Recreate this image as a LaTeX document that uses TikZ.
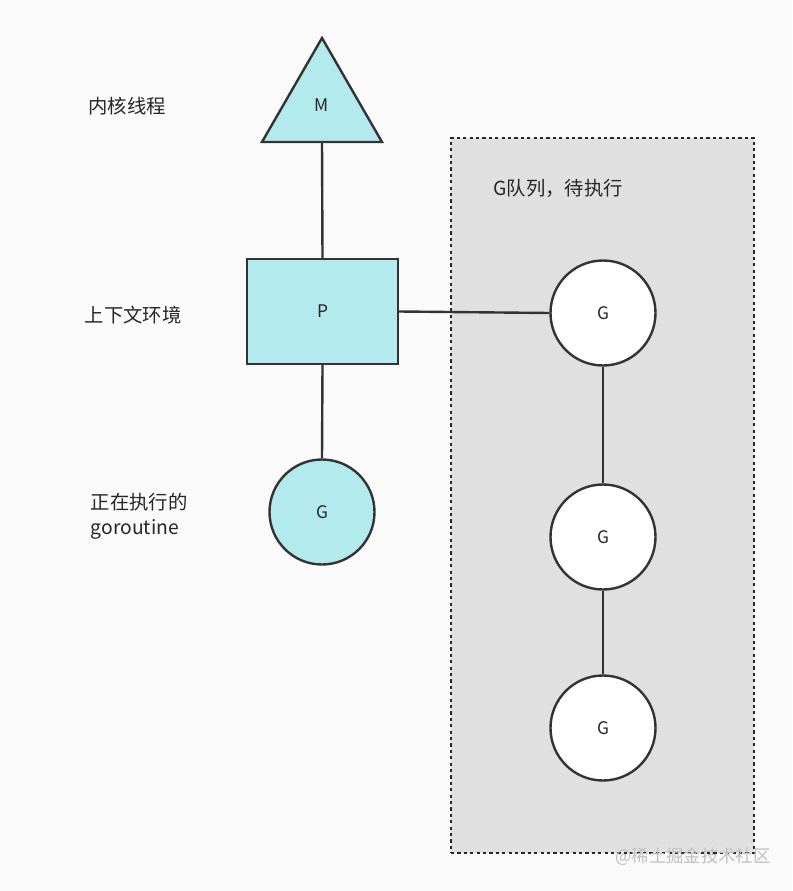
\documentclass[tikz,border=0pt]{standalone}
\usepackage{fontspec}
\setmainfont{Noto Sans CJK SC}
\begin{document}
\begin{tikzpicture}[x=0.75pt,y=-0.75pt,
  teal/.style={fill=tealc,draw=black!80,line width=1.8pt},
  wg/.style={circle,fill=white,draw=black!80,line width=1.8pt,minimum size=105*0.75pt,inner sep=0pt},
  conn/.style={draw=black!80,line width=1.8pt},
  lbl/.style={font=\fontsize{14.5}{18}\selectfont,text=black!85},
  let/.style={font=\fontsize{13}{15}\selectfont,text=black!85}]
\definecolor{tealc}{HTML}{B3EAEE}
\useasboundingbox[fill=black!2] (0,0) rectangle (792,891);
\node[draw=black!85,fill=black!12,line width=1.8pt,dash pattern=on 2.4pt off 2.4pt,minimum width=303*0.75pt,minimum height=715*0.75pt,inner sep=0pt] (box) at (602.5,495.5) {};
\node[lbl] (qt) at (558,188) {G队列，待执行};
\coordinate (ta) at (322,38);
\coordinate (tl) at (262,142);
\coordinate (tr) at (382,142);
\coordinate (tb) at (322,142);
\draw[teal,line join=miter] (ta) -- (tr) -- (tl) -- cycle;
\node[let] (M) at (322,105) {M};
\node[rectangle,teal,minimum width=151*0.75pt,minimum height=105*0.75pt,let] (P) at (322.5,311.5) {P};
\node[wg,teal,let] (G0) at (322,512) {G};
\node[wg,let] (G1) at (603,313) {G};
\node[wg,let] (G2) at (603,537) {G};
\node[wg,let] (G3) at (603,728) {G};
\draw[conn] (tb) -- (P.north);
\draw[conn] (P.south) -- (G0.north);
\draw[conn] (P.east) -- (G1.west);
\draw[conn] (G1) -- (G2);
\draw[conn] (G2) -- (G3);
\node[lbl] (l1) at (127,106) {内核线程};
\node[lbl] (l2) at (133,315) {上下文环境};
\node[lbl,align=left,anchor=west,font=\fontsize{14.5}{19}\selectfont] (l3) at (86,516) {正在执行的\\goroutine};
\node[font=\fontsize{13}{15}\selectfont,text=black!25] (wm) at (693,857) {@稀土掘金技术社区};
\end{tikzpicture}
\end{document}
